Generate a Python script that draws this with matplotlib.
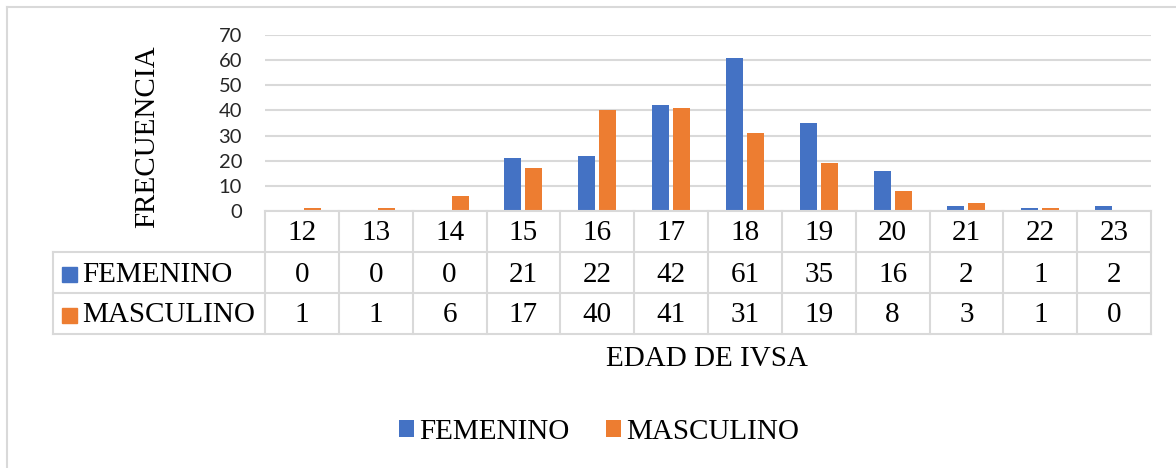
import numpy as np
import matplotlib
matplotlib.use('Agg')
import matplotlib.pyplot as plt
from matplotlib.patches import Rectangle
from matplotlib.lines import Line2D
import matplotlib.transforms as mtransforms

edades = ['12', '13', '14', '15', '16', '17', '18', '19', '20', '21', '22', '23']
femenino = [0, 0, 0, 21, 22, 42, 61, 35, 16, 2, 1, 2]
masculino = [1, 1, 6, 17, 40, 41, 31, 19, 8, 3, 1, 0]
series = ['FEMENINO', 'MASCULINO']
colores = ['#4472C4', '#ED7D31']
yticks = [0, 10, 20, 30, 40, 50, 60, 70]

W, H = 1176, 468
GRIS = '#d9d9d9'
SERIF = 'Liberation Serif'
FS = 21

fig = plt.figure(figsize=(W / 100, H / 100), dpi=100)


def fx(px):
    return px / W


def fy(py):
    return 1 - py / H


left, right, top, base = 265, 1151, 35, 211
ax = fig.add_axes([fx(left), fy(base), (right - left) / W, (base - top) / H])
x = np.arange(len(edades))
bw = 0.23
ax.bar(x - 0.142, femenino, bw, color=colores[0], label=series[0])
ax.bar(x + 0.142, masculino, bw, color=colores[1], label=series[1])
ax.set_xlim(-0.5, len(edades) - 0.5)
ax.set_ylim(0, 70)
ax.set_yticks(yticks)
ax.set_xticks([])
ax.yaxis.grid(True, color=GRIS, lw=1.5)
ax.set_axisbelow(True)
for s in ax.spines.values():
    s.set_visible(False)
ax.tick_params(axis='y', length=0, pad=16.5, labelsize=14.5, labelcolor='#262626')
for lab in ax.get_yticklabels():
    lab.set_fontfamily('Lato')

# data table under the axis
tr = mtransforms.blended_transform_factory(ax.transData, fig.transFigure)
rows = [211, 252, 293, 334]
lw = 1.5
fig.add_artist(Line2D([fx(left), fx(right)], [fy(rows[0])] * 2, color=GRIS, lw=lw))
for r in rows[1:]:
    fig.add_artist(Line2D([fx(53), fx(right)], [fy(r)] * 2, color=GRIS, lw=lw))
for k in range(len(edades) + 1):
    ax.add_line(Line2D([k - 0.5] * 2, [fy(rows[0]), fy(rows[-1])], transform=tr,
                       color=GRIS, lw=lw, clip_on=False))
fig.add_artist(Line2D([fx(53)] * 2, [fy(rows[1]), fy(rows[-1])], color=GRIS, lw=lw))

# text sits a touch below the row middle, as in the original
centros = [(rows[i] + rows[i + 1]) / 2 + 2 for i in range(3)]
for i, e in enumerate(edades):
    ax.text(i, fy(centros[0]), e, transform=tr, ha='center', va='center',
            family=SERIF, fontsize=FS)
    ax.text(i, fy(centros[1]), str(femenino[i]), transform=tr, ha='center', va='center',
            family=SERIF, fontsize=FS)
    ax.text(i, fy(centros[2]), str(masculino[i]), transform=tr, ha='center', va='center',
            family=SERIF, fontsize=FS)
for j, (nom, col) in enumerate(zip(series, colores)):
    cy = centros[j + 1]
    fig.add_artist(Rectangle((fx(62), fy(cy + 7.5)), 15 / W, 15 / H, color=col))
    fig.text(fx(82), fy(cy), nom, ha='left', va='center', family=SERIF, fontsize=FS)

fig.text(fx(147), fy(137), 'FRECUENCIA', rotation=90, ha='center', va='center',
         family=SERIF, fontsize=FS)
fig.text(fx(707), fy(359), 'EDAD DE IVSA', ha='center', va='center',
         family=SERIF, fontsize=FS)

fig.legend(loc='center', bbox_to_anchor=(fx(599), fy(432)), ncol=2, frameon=False,
           prop={'family': SERIF, 'size': FS}, handlelength=0.52, handleheight=0.52,
           handletextpad=0.17, columnspacing=1.24, borderpad=0)

# chart frame
fig.add_artist(Line2D([fx(7), 1], [fy(6.5)] * 2, color=GRIS, lw=1.5))
fig.add_artist(Line2D([fx(7)] * 2, [fy(6.5), 0], color=GRIS, lw=1.5))

fig.savefig('out.png', dpi=100)
